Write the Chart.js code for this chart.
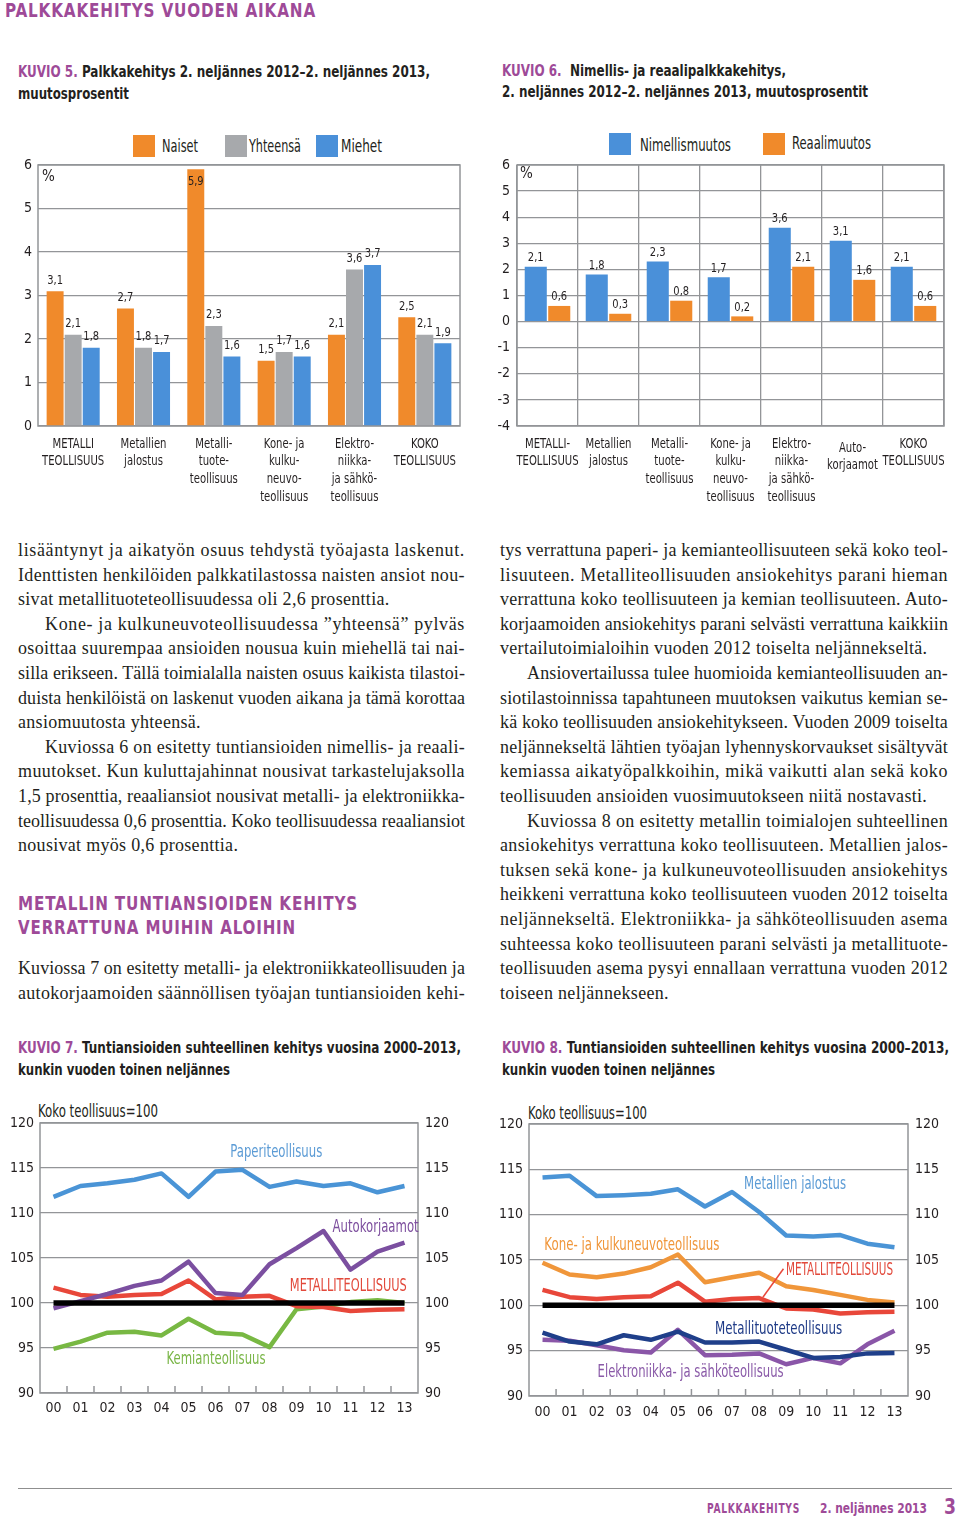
<!DOCTYPE html>
<html lang="fi">
<head>
<meta charset="utf-8">
<title>Palkkakehitys vuoden aikana</title>
<script src="https://cdn.jsdelivr.net/npm/chart.js@4.4.1/dist/chart.umd.min.js"></script>
<style>
  html, body { margin: 0; padding: 0; background: #fff; }
  body {
    position: relative; width: 960px; height: 1519px; overflow: hidden;
    font-family: 'Liberation Sans Narrow', 'DejaVu Sans Condensed', 'Roboto', sans-serif;
    color: #231f20;
  }
  .abs { position: absolute; white-space: nowrap; line-height: 20px; }
  .fit { display: inline-block; transform-origin: 0 50%; }
  .purple { color: #9e4a98; }
  .h { font-weight: bold; font-size: 16px; }
  .big { font-weight: bold; font-size: 20px; letter-spacing: 1px; }
  .leg { font-size: 17px; }
  .box { position: absolute; width: 22px; height: 22px; }
  canvas { position: absolute; }
  .col {
    position: absolute;
    font-family: 'Liberation Serif', 'DejaVu Serif', serif;
    font-size: 18px; line-height: 24.6px;
  }
  .ln { white-space: nowrap; text-align: justify; text-align-last: justify; }
  .ln.end { text-align-last: left; }
  .ln.ind { text-indent: 27px; }
</style>
</head>
<body>

<!-- page headings -->
<div class="abs" style="left:5px;top:0px;"><span class="fit purple big" data-w="311">PALKKAKEHITYS VUODEN AIKANA</span></div>

<div class="abs" style="left:18px;top:62px;"><span class="fit h" data-w="412"><span class="purple">KUVIO 5.</span> Palkkakehitys 2. neljännes 2012–2. neljännes 2013,</span></div>
<div class="abs" style="left:18px;top:84px;"><span class="fit h" data-w="111">muutosprosentit</span></div>

<div class="abs" style="left:502px;top:61px;"><span class="fit h" data-w="284"><span class="purple">KUVIO 6.</span>&nbsp; Nimellis- ja reaalipalkkakehitys,</span></div>
<div class="abs" style="left:502px;top:82px;"><span class="fit h" data-w="366">2. neljännes 2012–2. neljännes 2013, muutosprosentit</span></div>

<!-- legend, kuvio 5 -->
<div class="box" style="left:133px;top:135px;background:#f08a2b"></div>
<div class="abs" style="left:162px;top:136px;"><span class="fit leg" data-w="36">Naiset</span></div>
<div class="box" style="left:225px;top:135px;background:#a7a9ac"></div>
<div class="abs" style="left:249px;top:136px;"><span class="fit leg" data-w="52">Yhteensä</span></div>
<div class="box" style="left:316px;top:135px;background:#4a90d9"></div>
<div class="abs" style="left:341px;top:136px;"><span class="fit leg" data-w="41">Miehet</span></div>

<!-- legend, kuvio 6 -->
<div class="box" style="left:609px;top:133px;background:#4a90d9"></div>
<div class="abs" style="left:640px;top:135px;"><span class="fit leg" data-w="91">Nimellismuutos</span></div>
<div class="box" style="left:763px;top:133px;background:#f08a2b"></div>
<div class="abs" style="left:792px;top:133px;"><span class="fit leg" data-w="79">Reaalimuutos</span></div>

<canvas id="kuvio5" width="480" height="360" style="left:0px;top:150px;"></canvas>
<canvas id="kuvio6" width="470" height="365" style="left:490px;top:150px;"></canvas>

<!-- body text, left column -->
<div class="col" style="left:18px;top:538px;width:447px;" data-col="447">
  <div class="ln"><span>lisääntynyt ja aikatyön osuus tehdystä työajasta laskenut.</span></div>
  <div class="ln"><span>Identtisten henkilöiden palkkatilastossa naisten ansiot nou-</span></div>
  <div class="ln end"><span>sivat metallituoteteollisuudessa oli 2,6 prosenttia.</span></div>
  <div class="ln ind"><span>Kone- ja kulkuneuvoteollisuudessa ”yhteensä” pylväs</span></div>
  <div class="ln"><span>osoittaa suurempaa ansioiden nousua kuin miehellä tai nai-</span></div>
  <div class="ln"><span>silla erikseen. Tällä toimialalla naisten osuus kaikista tilastoi-</span></div>
  <div class="ln"><span>duista henkilöistä on laskenut vuoden aikana ja tämä korottaa</span></div>
  <div class="ln end"><span>ansiomuutosta yhteensä.</span></div>
  <div class="ln ind"><span>Kuviossa 6 on esitetty tuntiansioiden nimellis- ja reaali-</span></div>
  <div class="ln"><span>muutokset. Kun kuluttajahinnat nousivat tarkastelujaksolla</span></div>
  <div class="ln"><span>1,5 prosenttia, reaaliansiot nousivat metalli- ja elektroniikka-</span></div>
  <div class="ln"><span>teollisuudessa 0,6 prosenttia. Koko teollisuudessa reaaliansiot</span></div>
  <div class="ln end"><span>nousivat myös 0,6 prosenttia.</span></div>
</div>

<div class="abs" style="left:18px;top:893px;"><span class="fit purple big" data-w="340">METALLIN TUNTIANSIOIDEN KEHITYS</span></div>
<div class="abs" style="left:18px;top:917px;"><span class="fit purple big" data-w="278">VERRATTUNA MUIHIN ALOIHIN</span></div>

<div class="col" style="left:18px;top:956px;width:447px;" data-col="447">
  <div class="ln"><span>Kuviossa 7 on esitetty metalli- ja elektroniikkateollisuuden ja</span></div>
  <div class="ln"><span>autokorjaamoiden säännöllisen työajan tuntiansioiden kehi-</span></div>
</div>

<!-- body text, right column -->
<div class="col" style="left:500px;top:538px;width:448px;" data-col="448">
  <div class="ln"><span>tys verrattuna paperi- ja kemianteollisuuteen sekä koko teol-</span></div>
  <div class="ln"><span>lisuuteen. Metalliteollisuuden ansiokehitys parani  hieman</span></div>
  <div class="ln"><span>verrattuna koko teollisuuteen ja kemian teollisuuteen.  Auto-</span></div>
  <div class="ln"><span>korjaamoiden ansiokehitys parani selvästi verrattuna kaikkiin</span></div>
  <div class="ln end"><span>vertailutoimialoihin vuoden 2012 toiselta neljännekseltä.</span></div>
  <div class="ln ind"><span>Ansiovertailussa tulee huomioida kemianteollisuuden an-</span></div>
  <div class="ln"><span>siotilastoinnissa tapahtuneen muutoksen vaikutus kemian se-</span></div>
  <div class="ln"><span>kä koko teollisuuden ansiokehitykseen. Vuoden 2009 toiselta</span></div>
  <div class="ln"><span>neljännekseltä lähtien työajan lyhennyskorvaukset sisältyvät</span></div>
  <div class="ln"><span>kemiassa aikatyöpalkkoihin, mikä vaikutti alan sekä koko</span></div>
  <div class="ln end"><span>teollisuuden ansioiden vuosimuutokseen niitä nostavasti.</span></div>
  <div class="ln ind"><span>Kuviossa 8 on esitetty metallin toimialojen suhteellinen</span></div>
  <div class="ln"><span>ansiokehitys verrattuna koko teollisuuteen. Metallien jalos-</span></div>
  <div class="ln"><span>tuksen sekä kone- ja kulkuneuvoteollisuuden ansiokehitys</span></div>
  <div class="ln"><span>heikkeni verrattuna koko teollisuuteen vuoden 2012 toiselta</span></div>
  <div class="ln"><span>neljännekseltä.  Elektroniikka- ja sähköteollisuuden asema</span></div>
  <div class="ln"><span>suhteessa koko teollisuuteen parani selvästi ja metallituote-</span></div>
  <div class="ln"><span>teollisuuden asema pysyi ennallaan verrattuna vuoden 2012</span></div>
  <div class="ln end"><span>toiseen neljännekseen.</span></div>
</div>

<!-- kuvio 7 and 8 titles -->
<div class="abs" style="left:18px;top:1038px;"><span class="fit h" data-w="443"><span class="purple">KUVIO 7.</span> Tuntiansioiden suhteellinen kehitys vuosina 2000–2013,</span></div>
<div class="abs" style="left:18px;top:1060px;"><span class="fit h" data-w="212">kunkin vuoden toinen neljännes</span></div>
<div class="abs" style="left:502px;top:1038px;"><span class="fit h" data-w="447"><span class="purple">KUVIO 8.</span> Tuntiansioiden suhteellinen kehitys vuosina 2000–2013,</span></div>
<div class="abs" style="left:502px;top:1060px;"><span class="fit h" data-w="213">kunkin vuoden toinen neljännes</span></div>

<div class="abs" style="left:38px;top:1101px;"><span class="fit leg" data-w="120">Koko teollisuus=100</span></div>
<div class="abs" style="left:528px;top:1103px;"><span class="fit leg" data-w="119">Koko teollisuus=100</span></div>

<canvas id="kuvio7" width="460" height="320" style="left:0px;top:1108px;"></canvas>
<canvas id="kuvio8" width="460" height="320" style="left:490px;top:1109px;"></canvas>

<!-- footer -->
<div style="position:absolute;left:18px;top:1488px;width:934px;height:1px;background:#8f8f8f;"></div>
<div class="abs" style="left:707px;top:1498px;"><span class="fit purple" style="font-weight:bold;font-size:14px;letter-spacing:1px" data-w="93">PALKKAKEHITYS</span></div>
<div class="abs" style="left:820px;top:1498px;"><span class="fit purple" style="font-weight:bold;font-size:14px" data-w="107">2. neljännes 2013</span></div>
<div class="abs" style="left:944px;top:1497px;"><span class="fit purple" style="font-weight:bold;font-size:22px" data-w="12">3</span></div>

<script>
'use strict';

// ---- data: kuvio 5 ----
var kuvio5Categories = [
  ['METALLI', 'TEOLLISUUS'],
  ['Metallien', 'jalostus'],
  ['Metalli-', 'tuote-', 'teollisuus'],
  ['Kone- ja', 'kulku-', 'neuvo-', 'teollisuus'],
  ['Elektro-', 'niikka-', 'ja sähkö-', 'teollisuus'],
  ['KOKO', 'TEOLLISUUS']
];
var naiset = [3.1, 2.7, 5.9, 1.5, 2.1, 2.5];
var yhteensa = [2.1, 1.8, 2.3, 1.7, 3.6, 2.1];
var miehet = [1.8, 1.7, 1.6, 1.6, 3.7, 1.9];

// ---- data: kuvio 6 ----
var kuvio6Categories = [
  ['METALLI-', 'TEOLLISUUS'],
  ['Metallien', 'jalostus'],
  ['Metalli-', 'tuote-', 'teollisuus'],
  ['Kone- ja', 'kulku-', 'neuvo-', 'teollisuus'],
  ['Elektro-', 'niikka-', 'ja sähkö-', 'teollisuus'],
  ['Auto-', 'korjaamot'],
  ['KOKO', 'TEOLLISUUS']
];
var nimellismuutos = [2.1, 1.8, 2.3, 1.7, 3.6, 3.1, 2.1];
var reaalimuutos = [0.6, 0.3, 0.8, 0.2, 2.1, 1.6, 0.6];

// ---- data: kuviot 7 & 8 (koko teollisuus = 100) ----
var years = ['00', '01', '02', '03', '04', '05', '06', '07', '08', '09', '10', '11', '12', '13'];
var kokoTeollisuus = [100, 100, 100, 100, 100, 100, 100, 100, 100, 100, 100, 100, 100, 100];
var metalliteollisuus = [101.7, 100.9, 100.7, 100.9, 101.0, 102.5, 100.4, 100.7, 100.8, 99.65, 99.55, 99.1, 99.25, 99.3];
var paperiteollisuus = [111.8, 113.0, 113.3, 113.7, 114.4, 111.8, 114.6, 114.8, 112.9, 113.5, 113.0, 113.3, 112.3, 113.0];
var autokorjaamot = [99.4, 100.2, 101.0, 101.9, 102.5, 104.6, 101.1, 100.9, 104.3, 106.1, 108.0, 103.7, 105.7, 106.7];
var kemianteollisuus = [94.9, 95.7, 96.7, 96.8, 96.4, 98.25, 96.7, 96.5, 95.1, 99.3, 99.6, 100.1, 100.3, 100.0];
var metallienJalostus = [114.1, 114.3, 112.05, 112.15, 112.3, 112.8, 110.9, 112.5, 110.3, 107.7, 107.6, 107.75, 106.8, 106.4];
var koneKulkuneuvo = [104.7, 103.4, 103.1, 103.5, 104.2, 105.6, 102.55, 103.1, 103.6, 102.1, 101.7, 101.15, 100.6, 100.3];
var metallituote = [97.0, 96.0, 95.7, 96.7, 96.2, 97.1, 95.9, 95.9, 96.0, 95.1, 94.2, 94.3, 94.7, 94.75];
var elektroniikka = [96.2, 96.1, 95.6, 95.05, 94.8, 97.3, 94.5, 94.55, 94.7, 93.5, 94.2, 93.6, 95.7, 97.2];

var FONT_N = '"Liberation Sans Narrow", "DejaVu Sans Condensed", "Roboto", sans-serif';
var INK = '#231f20';
var GRID = '#939598';
var ORANGE = '#f08a2b';
var GREY = '#a7a9ac';
var BLUE = '#4a90d9';

// Squeeze HTML headings to the width they have in the print layout.
document.querySelectorAll('.fit').forEach(function(el) {
  var w = el.getBoundingClientRect().width;
  el.style.transform = 'scaleX(' + (Number(el.dataset.w) / w) + ')';
});

// Body text: spread letters so each full line fills the column like the print.
document.querySelectorAll('.col').forEach(function(col) {
  var width = Number(col.dataset.col);
  var sum = 0, count = 0;
  var lines = col.querySelectorAll('.ln');
  lines.forEach(function(ln) {
    if (ln.classList.contains('end')) return;
    var span = ln.firstElementChild;
    ln.style.textAlignLast = 'left';
    var w = span.getBoundingClientRect().width + (ln.classList.contains('ind') ? 27 : 0);
    ln.style.textAlignLast = '';
    var ls = (width - w) / span.textContent.length;
    ls = Math.min(ls, 1.2);
    ln.style.letterSpacing = ls + 'px';
    sum += ls;
    count += 1;
  });
  var avg = count ? sum / count : 0;
  lines.forEach(function(ln) {
    if (ln.classList.contains('end')) ln.style.letterSpacing = avg + 'px';
  });
});

// Text drawn on canvas, squeezed horizontally.
function squeezedText(ctx, text, x, y, font, color, sx) {
  ctx.save();
  ctx.font = font;
  ctx.fillStyle = color;
  ctx.textAlign = 'center';
  ctx.textBaseline = 'middle';
  ctx.translate(x, y);
  ctx.scale(sx, 1);
  ctx.fillText(text, 0, 0);
  ctx.restore();
}

// Grey box around the plot area.
var framePlugin = {
  id: 'frame',
  beforeDatasetsDraw: function(chart) {
    var a = chart.chartArea;
    var ctx = chart.ctx;
    ctx.save();
    ctx.strokeStyle = GRID;
    ctx.lineWidth = 1.5;
    ctx.strokeRect(a.left, a.top, a.right - a.left, a.bottom - a.top);
    ctx.restore();
  }
};

// Values written above each bar, with a decimal comma.
var barLabelPlugin = {
  id: 'barLabels',
  afterDatasetsDraw: function(chart, args, opts) {
    var ctx = chart.ctx;
    var top = chart.chartArea.top;
    chart.data.datasets.forEach(function(ds, di) {
      chart.getDatasetMeta(di).data.forEach(function(bar, i) {
        var text = ds.data[i].toFixed(1).replace('.', ',');
        var y = bar.y - opts.gap;
        // no room above the plot frame: write inside the bar top
        if (y < top + 4) y = bar.y + 12;
        squeezedText(ctx, text, bar.x, y, '13px ' + FONT_N, INK, 0.85);
      });
    });
  }
};

// Multi-line category names under the bars, squeezed like the print face.
var categoryLabelPlugin = {
  id: 'categoryLabels',
  afterDraw: function(chart, args, opts) {
    var ctx = chart.ctx;
    var x = chart.scales.x;
    var bottom = chart.chartArea.bottom;
    chart.data.labels.forEach(function(lines, i) {
      var shift = lines.length === 2 && opts.lowTwoLine && opts.lowTwoLine.indexOf(i) >= 0 ? 4 : 0;
      lines.forEach(function(line, k) {
        squeezedText(ctx, line, x.getPixelForValue(i), bottom + 18 + shift + k * 17.8,
                     '14px ' + FONT_N, INK, 0.8);
      });
    });
  }
};

// "%" in the top left corner of the plot.
var cornerTextPlugin = {
  id: 'cornerText',
  afterDraw: function(chart, args, opts) {
    var a = chart.chartArea;
    var ctx = chart.ctx;
    ctx.save();
    ctx.font = '15px ' + FONT_N;
    ctx.fillStyle = INK;
    ctx.textBaseline = 'middle';
    ctx.fillText(opts.text, a.left + opts.dx, a.top + opts.dy);
    ctx.restore();
  }
};

// Short tick marks on the inside of the bottom axis, between the years.
var innerTicksPlugin = {
  id: 'innerTicks',
  beforeDatasetsDraw: function(chart) {
    var x = chart.scales.x;
    var bottom = chart.chartArea.bottom;
    var ctx = chart.ctx;
    ctx.save();
    ctx.strokeStyle = GRID;
    ctx.lineWidth = 1.5;
    for (var i = 0; i < years.length - 1; i++) {
      var px = (x.getPixelForValue(i) + x.getPixelForValue(i + 1)) / 2;
      ctx.beginPath();
      ctx.moveTo(px, bottom);
      ctx.lineTo(px, bottom - 7);
      ctx.stroke();
    }
    ctx.restore();
  }
};

// Series names written inside the line charts.
var seriesLabelPlugin = {
  id: 'seriesLabels',
  afterDatasetsDraw: function(chart, args, opts) {
    var ctx = chart.ctx;
    var x = chart.scales.x;
    var y = chart.scales.y;
    (opts.leaders || []).forEach(function(l) {
      ctx.save();
      ctx.strokeStyle = l.color;
      ctx.lineWidth = 1.5;
      ctx.beginPath();
      ctx.moveTo(x.getPixelForValue(l.i0), y.getPixelForValue(l.v0));
      ctx.lineTo(x.getPixelForValue(l.i1), y.getPixelForValue(l.v1));
      ctx.stroke();
      ctx.restore();
    });
    (opts.items || []).forEach(function(item) {
      var font = '17px ' + FONT_N;
      ctx.font = font;
      var sx = item.w / ctx.measureText(item.text).width;
      squeezedText(ctx, item.text, x.getPixelForValue(item.i), y.getPixelForValue(item.v),
                   font, item.color, sx);
    });
  }
};

function barDataset(label, data, color) {
  return {
    label: label,
    data: data,
    backgroundColor: color,
    categoryPercentage: 0.77,
    barPercentage: 0.94
  };
}

function lineDataset(label, data, color, width) {
  return {
    label: label,
    data: data,
    borderColor: color,
    borderWidth: width || 4.5,
    pointRadius: 0,
    tension: 0,
    fill: false,
    borderJoinStyle: 'round'
  };
}

// The print layout has fixed plot frames, so drop the label overflow padding.
function noOverflow(scale) {
  scale.paddingTop = 0;
  scale.paddingBottom = 0;
  scale.paddingLeft = 0;
  scale.paddingRight = 0;
}

function categoryAxis(height) {
  return {
    grid: { display: false },
    border: { display: false },
    ticks: { display: false },
    afterFit: function(scale) {
      noOverflow(scale);
      scale.height = height;
    }
  };
}

function valueAxis(min, max, step, width, padding, position) {
  return {
    position: position || 'left',
    min: min,
    max: max,
    ticks: {
      stepSize: step,
      color: INK,
      font: { family: FONT_N, size: 14 },
      padding: padding
    },
    grid: { color: GRID, lineWidth: 1.3, drawTicks: false },
    border: { display: false },
    afterFit: function(scale) {
      noOverflow(scale);
      scale.width = width;
    }
  };
}

// ---- KUVIO 5 ----
new Chart(document.getElementById('kuvio5'), {
  type: 'bar',
  data: {
    labels: kuvio5Categories,
    datasets: [
      barDataset('Naiset', naiset, ORANGE),
      barDataset('Yhteensä', yhteensa, GREY),
      barDataset('Miehet', miehet, BLUE)
    ]
  },
  options: {
    responsive: false,
    animation: false,
    layout: { padding: { top: 15, right: 20, left: 0, bottom: 0 } },
    plugins: {
      legend: { display: false },
      tooltip: { enabled: false },
      barLabels: { gap: 11 },
      categoryLabels: {},
      cornerText: { text: '%', dx: 4, dy: 12 }
    },
    scales: {
      x: categoryAxis(84),
      y: valueAxis(0, 6, 1, 38, 6)
    }
  },
  plugins: [framePlugin, barLabelPlugin, categoryLabelPlugin, cornerTextPlugin]
});

// ---- KUVIO 6 ----
var x6 = categoryAxis(89);
x6.grid = { display: true, offset: true, color: GRID, lineWidth: 1.3, drawTicks: false };
new Chart(document.getElementById('kuvio6'), {
  type: 'bar',
  data: {
    labels: kuvio6Categories,
    datasets: [
      barDataset('Nimellismuutos', nimellismuutos, BLUE),
      barDataset('Reaalimuutos', reaalimuutos, ORANGE)
    ]
  },
  options: {
    responsive: false,
    animation: false,
    layout: { padding: { top: 15, right: 16, left: 0, bottom: 0 } },
    plugins: {
      legend: { display: false },
      tooltip: { enabled: false },
      barLabels: { gap: 9 },
      categoryLabels: { lowTwoLine: [5] },
      cornerText: { text: '%', dx: 3, dy: 9 }
    },
    scales: {
      x: x6,
      y: valueAxis(-4, 6, 1, 27, 7)
    }
  },
  plugins: [framePlugin, barLabelPlugin, categoryLabelPlugin, cornerTextPlugin]
});

function yearAxis(height, padding) {
  return {
    offset: true,
    grid: { display: false },
    border: { display: false },
    ticks: { color: INK, font: { family: FONT_N, size: 14 }, padding: padding, autoSkip: false, maxRotation: 0 },
    afterFit: function(scale) {
      noOverflow(scale);
      scale.height = height;
    }
  };
}

function rightAxis(width) {
  var axis = valueAxis(90, 120, 5, width, 7, 'right');
  axis.grid = { drawOnChartArea: false, drawTicks: false };
  return axis;
}

// ---- KUVIO 7 ----
new Chart(document.getElementById('kuvio7'), {
  type: 'line',
  data: {
    labels: years,
    datasets: [
      lineDataset('Koko teollisuus', kokoTeollisuus, '#000000', 5.5),
      lineDataset('Paperiteollisuus', paperiteollisuus, '#4a94d6'),
      lineDataset('Autokorjaamot', autokorjaamot, '#7b4fa0'),
      lineDataset('Metalliteollisuus', metalliteollisuus, '#e8473a'),
      lineDataset('Kemianteollisuus', kemianteollisuus, '#78b843')
    ]
  },
  options: {
    responsive: false,
    animation: false,
    layout: { padding: { top: 15, right: 0, left: 0, bottom: 0 } },
    plugins: {
      legend: { display: false },
      tooltip: { enabled: false },
      seriesLabels: {
        items: [
          { text: 'Paperiteollisuus', i: 8.25, v: 116.7, w: 92, color: '#5b9bd5' },
          { text: 'Autokorjaamot', i: 11.93, v: 108.4, w: 86, color: '#7d4f9e' },
          { text: 'METALLITEOLLISUUS', i: 10.92, v: 101.86, w: 117, color: '#e2493b' },
          { text: 'Kemianteollisuus', i: 6.02, v: 93.7, w: 99, color: '#7ab648' }
        ]
      }
    },
    scales: {
      x: yearAxis(35, -1),
      y: valueAxis(90, 120, 5, 40, 6),
      y2: rightAxis(42)
    }
  },
  plugins: [framePlugin, innerTicksPlugin, seriesLabelPlugin]
});

// ---- KUVIO 8 ----
new Chart(document.getElementById('kuvio8'), {
  type: 'line',
  data: {
    labels: years,
    datasets: [
      lineDataset('Koko teollisuus', kokoTeollisuus, '#000000', 5.5),
      lineDataset('Metallien jalostus', metallienJalostus, '#4a94d6'),
      lineDataset('Kone- ja kulkuneuvoteollisuus', koneKulkuneuvo, '#f0963a'),
      lineDataset('Metalliteollisuus', metalliteollisuus, '#e8473a'),
      lineDataset('Metallituoteteollisuus', metallituote, '#1f3f8a'),
      lineDataset('Elektroniikka- ja sähköteollisuus', elektroniikka, '#8a56a8')
    ]
  },
  options: {
    responsive: false,
    animation: false,
    layout: { padding: { top: 15, right: 0, left: 0, bottom: 0 } },
    plugins: {
      legend: { display: false },
      tooltip: { enabled: false },
      seriesLabels: {
        leaders: [
          { i0: 8.9, v0: 104.03, i1: 8.14, v1: 100.89, color: '#e8473a' }
        ],
        items: [
          { text: 'Metallien jalostus', i: 9.33, v: 113.35, w: 102, color: '#5b9bd5' },
          { text: 'Kone- ja kulkuneuvoteollisuus', i: 3.3, v: 106.6, w: 175, color: '#f0963a' },
          { text: 'METALLITEOLLISUUS', i: 10.97, v: 103.84, w: 107, color: '#e2493b' },
          { text: 'Metallituoteteollisuus', i: 8.72, v: 97.34, w: 127, color: '#1f3b87' },
          { text: 'Elektroniikka- ja sähköteollisuus', i: 5.47, v: 92.53, w: 186, color: '#8a5aa8' }
        ]
      }
    },
    scales: {
      x: yearAxis(33, 0),
      y: valueAxis(90, 120, 5, 39, 6),
      y2: rightAxis(42)
    }
  },
  plugins: [framePlugin, innerTicksPlugin, seriesLabelPlugin]
});
</script>
</body>
</html>
